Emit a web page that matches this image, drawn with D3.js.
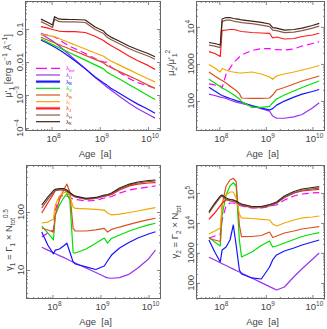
<!DOCTYPE html>
<html>
<head>
<meta charset="utf-8">
<script src="https://cdn.jsdelivr.net/npm/d3@7"></script>
<style>
body { margin: 0; background: #fff; }
svg { display: block; font-family: "Liberation Sans", Arial, sans-serif; }
</style>
</head>
<body>
<svg id="chart" width="327" height="329"></svg>
<script>
// ages of the models [yr], shared by every curve
var ages = [6e7, 8e7, 1.05e8, 1.15e8, 1.4e8, 1.7e8, 2e8, 2.3e8, 2.7e8, 3e8,
            5e8, 8e8, 1.2e9, 1.4e9, 1.7e9, 2.5e9, 4e9, 6e9, 1e10, 1.4e10];

var bands = ["bol", "U", "B", "V", "R", "I", "J", "H", "K"];
var bandColors = ["#ff00ff", "#9933ee", "#1414ff", "#00e000", "#dc5020", "#f0a800", "#ff1a1a", "#8c5a48", "#3a2418"];

// mu'_1  [erg s-1 A-1]   (rows in band order)
var mu1 = [
  [0.0733, 0.066, 0.0594, 0.0574, 0.0499, 0.0405, 0.0352, 0.0306, 0.0276, 0.0258, 0.0182, 0.0128, 0.01, 0.01, 0.0071, 0.005, 0.0032, 0.0024, 0.0019, 0.0016],
  [0.0708, 0.0554, 0.0435, 0.0391, 0.0318, 0.0249, 0.0202, 0.0169, 0.0137, 0.0119, 0.0064, 0.0034, 0.0021, 0.00175, 0.00142, 0.00094, 0.00057, 0.00039, 0.00026, 0.0002],
  [0.0466, 0.0378, 0.0306, 0.0286, 0.024, 0.0202, 0.0169, 0.0147, 0.0124, 0.0111, 0.0062, 0.0035, 0.0023, 0.002, 0.0016, 0.00115, 0.00076, 0.00054, 0.00037, 0.00028],
  [0.0499, 0.0408, 0.0338, 0.0318, 0.0276, 0.0242, 0.0216, 0.0195, 0.0175, 0.0162, 0.0114, 0.0082, 0.0062, 0.005, 0.0042, 0.0031, 0.0021, 0.0015, 0.00097, 0.00073],
  [0.0562, 0.0476, 0.0405, 0.0383, 0.034, 0.0302, 0.0276, 0.0252, 0.023, 0.0216, 0.0159, 0.012, 0.0094, 0.0079, 0.0068, 0.0052, 0.0038, 0.0029, 0.002, 0.0016],
  [0.0693, 0.0647, 0.0603, 0.0586, 0.0525, 0.0466, 0.0425, 0.0391, 0.0355, 0.0333, 0.0249, 0.0188, 0.015, 0.0128, 0.0108, 0.0082, 0.0059, 0.0044, 0.0031, 0.0025],
  [0.119, 0.108, 0.097, 0.0935, 0.087, 0.0843, 0.083, 0.083, 0.083, 0.083, 0.0786, 0.0605, 0.045, 0.0378, 0.0317, 0.0232, 0.0152, 0.0111, 0.0079, 0.006],
  [0.168, 0.138, 0.112, 0.2, 0.17, 0.165, 0.165, 0.164, 0.164, 0.164, 0.158, 0.097, 0.073, 0.057, 0.048, 0.0366, 0.0257, 0.0202, 0.0153, 0.0122],
  [0.20, 0.164, 0.133, 0.237, 0.202, 0.197, 0.197, 0.195, 0.195, 0.195, 0.188, 0.115, 0.087, 0.068, 0.057, 0.0435, 0.0306, 0.024, 0.0182, 0.0145]
];

// mu_2 / mu'_1^2
var mu2ratio = [
  [290, 270, 255, 225, 530, 770, 1060, 1270, 1540, 1740, 2300, 2600, 2600, 2380, 2450, 2380, 2530, 3050, 3560, 3980],
  [153, 140, 127, 124, 116, 106, 99, 93, 88, 85, 73, 62, 53, 39, 34, 34, 37, 43, 64, 89],
  [233, 185, 149, 140, 127, 116, 109, 102, 96, 92, 75, 64, 57, 62, 77, 99, 127, 153, 180, 203],
  [384, 305, 245, 223, 197, 169, 149, 131, 113, 96, 67, 67, 71, 88, 113, 144, 185, 230, 295, 345],
  [604, 471, 378, 356, 305, 253, 216, 191, 158, 120, 117, 117, 120, 144, 197, 230, 286, 345, 416, 471],
  [964, 774, 604, 751, 684, 624, 604, 586, 568, 568, 604, 533, 443, 384, 471, 533, 604, 684, 800, 906],
  [2140, 1910, 1590, 7890, 8240, 8500, 8500, 8240, 7740, 7510, 7060, 6840, 6720, 5010, 5340, 4710, 4860, 5500, 6040, 6720],
  [3220, 3030, 2750, 13900, 15200, 15200, 14400, 13900, 13500, 13100, 12200, 11200, 10200, 8200, 7900, 7000, 7200, 7900, 9300, 10500],
  [3790, 3560, 3240, 16400, 17900, 17900, 16900, 16400, 15900, 15400, 14400, 13200, 12000, 9600, 9300, 8200, 8500, 9300, 10900, 12400]
];

// gamma_1 = Gamma_1 x N_tot^0.5
var gamma1 = [
  [37, 43.5, 49, 108, 181, 196, 188, 178, 167, 164, 155, 158, 174, 178, 185, 212, 239, 254, 270, 281],
  [24.6, 22, 19.8, 19.1, 17.7, 16.5, 15.5, 14.6, 13.7, 13.2, 10.8, 9.05, 7.7, 7.3, 7.2, 7.4, 8.5, 10.8, 15.5, 22],
  [45, 27, 19, 22, 23, 26, 29, 20.4, 13.7, 12.7, 11.3, 10.2, 11.7, 14.3, 18.1, 24, 30, 35.6, 41.7, 45.7],
  [57, 43.5, 33, 89, 132, 174, 208, 161, 20, 19.6, 23, 29, 35.6, 29, 35, 40, 47, 53, 60, 64],
  [53, 49, 45, 89, 161, 239, 303, 221, 52, 47, 47, 49, 52, 45, 50, 55, 61, 67, 74, 78],
  [64.6, 67, 75.6, 132, 188, 212, 224, 188, 122, 115, 113, 111, 108, 96, 89, 92, 98, 104, 113, 119],
  [96, 143, 204, 239, 244, 239, 230, 212, 192, 185, 167, 171, 188, 192, 200, 239, 281, 303, 316, 322],
  [118, 165, 218, 232, 240, 240, 226, 207, 188, 181, 166, 172, 190, 194, 204, 249, 291, 316, 335, 342],
  [132, 181, 234, 246, 254, 254, 239, 217, 196, 188, 172, 178, 196, 200, 212, 259, 303, 329, 349, 356]
];

// gamma_2 = Gamma_2 x N_tot
var gamma2 = [
  [3140, 3660, 4270, 12500, 36600, 46000, 46000, 42700, 38000, 36600, 31400, 31400, 35200, 38000, 39500, 58000, 78800, 91900, 99300, 102000],
  [713, 580, 468, 437, 378, 326, 288, 259, 231, 214, 145, 102, 75, 67, 58, 73, 160, 295, 616, 993],
  [2690, 1070, 498, 1250, 1570, 2690, 8510, 1830, 269, 198, 146, 135, 339, 580, 851, 1160, 1460, 1830, 2310, 2690],
  [3310, 2310, 1700, 18300, 85100, 170000, 219000, 170000, 2690, 730, 1070, 1770, 2490, 1570, 1700, 2140, 2800, 3520, 4270, 4710],
  [3020, 2690, 2400, 39500, 170000, 269000, 307000, 240000, 8510, 3470, 3520, 3800, 4970, 3260, 3660, 4600, 5370, 6260, 7030, 7470],
  [4270, 5370, 6760, 39500, 85100, 107000, 107000, 67600, 19800, 14600, 14000, 13200, 12500, 9190, 7880, 9930, 12500, 14600, 15700, 17000],
  [13200, 21400, 36600, 46000, 58000, 60300, 58000, 51600, 44300, 41000, 33900, 33900, 39500, 42700, 46000, 70300, 99300, 116000, 125000, 132000],
  [21000, 41000, 71000, 77000, 61000, 54000, 52000, 48000, 41000, 38500, 32000, 32000, 37000, 40000, 45000, 71000, 100000, 122000, 136000, 145000],
  [23600, 46000, 78800, 85100, 67600, 60300, 58000, 53700, 46000, 42700, 35200, 35200, 41000, 44300, 49800, 78800, 111000, 135000, 151000, 161000]
];

var svg = d3.select("#chart");
var frameColor = "#666";
var textColor = "#444";

var panels = [
  { id: "p1", values: mu1, left: 25, top: 1, right: 161, bottom: 131,
    xd: [Math.pow(10, 7.448), Math.pow(10, 10.27)], yd: [Math.pow(10, -4.09), Math.pow(10, -0.15)],
    title: [["μ'", 0], ["1", -1], [" [erg s", 0], ["−1", 1], [" Å", 0], ["−1", 1], ["]", 0]], tx: 11, ty: 66, legend: true },
  { id: "p2", values: mu2ratio, left: 196, top: 1, right: 325, bottom: 131,
    xd: [Math.pow(10, 7.50), Math.pow(10, 10.27)], yd: [Math.pow(10, 1.187), Math.pow(10, 4.7)],
    title: [["μ", 0], ["2", -1], ["/μ'", 0], ["1", -1], ["2", 1]], tx: 174, ty: 63 },
  { id: "p3", values: gamma1, left: 26, top: 165, right: 161, bottom: 299,
    xd: [Math.pow(10, 7.45), Math.pow(10, 10.26)], yd: [Math.pow(10, 0.5), Math.pow(10, 2.81)],
    title: [["γ", 0], ["1", -1], [" = Γ", 0], ["1", -1], [" × N", 0], ["tot", -1], ["0.5", 1]], tx: 12, ty: 240 },
  { id: "p4", values: gamma2, left: 196, top: 165, right: 325, bottom: 299,
    xd: [Math.pow(10, 7.50), Math.pow(10, 10.27)], yd: [Math.pow(10, 1.463), Math.pow(10, 5.93)],
    title: [["γ", 0], ["2", -1], [" = Γ", 0], ["2", -1], [" × N", 0], ["tot", -1]], tx: 178, ty: 232 }
];

panels.forEach(drawPanel);

function rich(sel, parts, fs) {
  var shift = 0;
  parts.forEach(function(p) {
    var target = p[1] === 1 ? -0.4 * fs : (p[1] === -1 ? 0.28 * fs : 0);
    sel.append("tspan")
      .attr("dy", (target - shift).toFixed(2))
      .attr("font-size", p[1] ? fs * 0.68 : fs)
      .text(p[0]);
    shift = target;
  });
}

function decades(d) {
  var lo = Math.ceil(Math.log10(d[0]) - 1e-9), hi = Math.floor(Math.log10(d[1]) + 1e-9);
  return d3.range(lo, hi + 1);
}

function minorTicks(d) {
  var out = [];
  for (var e = Math.floor(Math.log10(d[0])); e <= Math.ceil(Math.log10(d[1])); e++) {
    for (var m = 2; m < 10; m++) {
      var v = m * Math.pow(10, e);
      if (v > d[0] && v < d[1]) out.push(v);
    }
  }
  return out;
}

function labelParts(e) {
  if (e >= -2 && e <= 3) return [[String(+Math.pow(10, e).toFixed(2)), 0]];
  return [["10", 0], [String(e).replace("-", "−"), 1]];
}

function drawPanel(p) {
  var w = p.right - p.left, h = p.bottom - p.top;
  var x = d3.scaleLog().domain(p.xd).range([p.left, p.right]);
  var y = d3.scaleLog().domain(p.yd).range([p.bottom, p.top]);
  var g = svg.append("g");

  g.append("clipPath").attr("id", "clip-" + p.id)
    .append("rect").attr("x", p.left).attr("y", p.top).attr("width", w).attr("height", h);

  // ticks on all four sides, pointing inward
  var xMaj = decades(p.xd).map(function(e) { return Math.pow(10, e); });
  var yMaj = decades(p.yd).map(function(e) { return Math.pow(10, e); });
  var tickSets = [
    [d3.axisBottom(x).tickValues(xMaj).tickSizeInner(-4), p.bottom, true],
    [d3.axisBottom(x).tickValues(minorTicks(p.xd)).tickSizeInner(-2), p.bottom, true],
    [d3.axisTop(x).tickValues(xMaj).tickSizeInner(-4), p.top, true],
    [d3.axisTop(x).tickValues(minorTicks(p.xd)).tickSizeInner(-2), p.top, true],
    [d3.axisLeft(y).tickValues(yMaj).tickSizeInner(-4), p.left, false],
    [d3.axisLeft(y).tickValues(minorTicks(p.yd)).tickSizeInner(-2), p.left, false],
    [d3.axisRight(y).tickValues(yMaj).tickSizeInner(-4), p.right, false],
    [d3.axisRight(y).tickValues(minorTicks(p.yd)).tickSizeInner(-2), p.right, false]
  ];
  tickSets.forEach(function(t) {
    var a = g.append("g")
      .attr("transform", t[2] ? "translate(0," + t[1] + ")" : "translate(" + t[1] + ",0)")
      .call(t[0].tickSizeOuter(0).tickFormat(""));
    a.select(".domain").remove();
    a.selectAll("line").attr("stroke", frameColor).attr("stroke-width", 0.8);
  });

  g.append("rect")
    .attr("x", p.left + 0.5).attr("y", p.top + 0.5)
    .attr("width", w - 1).attr("height", h - 1)
    .attr("fill", "none").attr("stroke", frameColor).attr("stroke-width", 1);

  // tick labels
  decades(p.xd).forEach(function(e) {
    var t = g.append("text").attr("x", x(Math.pow(10, e)) + 2).attr("y", p.bottom + 11)
      .attr("text-anchor", "middle").attr("fill", textColor);
    rich(t, labelParts(e), 9.5);
  });
  decades(p.yd).forEach(function(e) {
    var yy = y(Math.pow(10, e));
    var t = g.append("text")
      .attr("transform", "translate(" + (p.left - 2) + "," + yy + ") rotate(-90)")
      .attr("text-anchor", "middle").attr("fill", textColor);
    rich(t, labelParts(e), 9.5);
  });

  // axis titles
  g.append("text").attr("x", (p.left + p.right) / 2 + 2).attr("y", p.bottom + 26)
    .attr("text-anchor", "middle").attr("font-size", 9.5).attr("fill", textColor)
    .attr("xml:space", "preserve").text("Age  [a]");
  var tt = g.append("text")
    .attr("transform", "translate(" + p.tx + "," + p.ty + ") rotate(-90)")
    .attr("text-anchor", "middle").attr("fill", textColor);
  rich(tt, p.title, 9.5);

  // curves
  var line = d3.line()
    .x(function(d) { return x(d[0]); })
    .y(function(d) { return y(d[1]); });

  var curves = g.append("g").attr("clip-path", "url(#clip-" + p.id + ")");
  p.values.forEach(function(vals, i) {
    curves.append("path")
      .datum(ages.map(function(a, j) { return [a, vals[j]]; }))
      .attr("d", line)
      .attr("fill", "none")
      .attr("stroke", bandColors[i])
      .attr("stroke-width", 1.2)
      .attr("stroke-linejoin", "round")
      .attr("stroke-dasharray", bands[i] === "bol" ? "7,4" : null);
  });

  if (p.legend) drawLegend(g);
}

function drawLegend(g) {
  var rowY = d3.scaleLinear().domain([0, bands.length - 1]).range([68.3, 121.7]);
  bands.forEach(function(b, i) {
    var yy = rowY(i);
    if (b === "B" || b === "J") {
      g.append("line").attr("x1", 36).attr("x2", 60).attr("y1", yy).attr("y2", yy)
        .attr("stroke", bandColors[i]).attr("stroke-width", 3).attr("opacity", 0.55);
    }
    g.append("line").attr("x1", 36).attr("x2", 60).attr("y1", yy).attr("y2", yy)
      .attr("stroke", bandColors[i]).attr("stroke-width", 1.2)
      .attr("stroke-dasharray", b === "bol" ? "11,4" : null);
    var t = g.append("text").attr("x", 66).attr("y", yy + 2).attr("fill", bandColors[i]);
    rich(t, [["λ", 0], [b, -1]], 6);
  });
}
</script>
</body>
</html>
